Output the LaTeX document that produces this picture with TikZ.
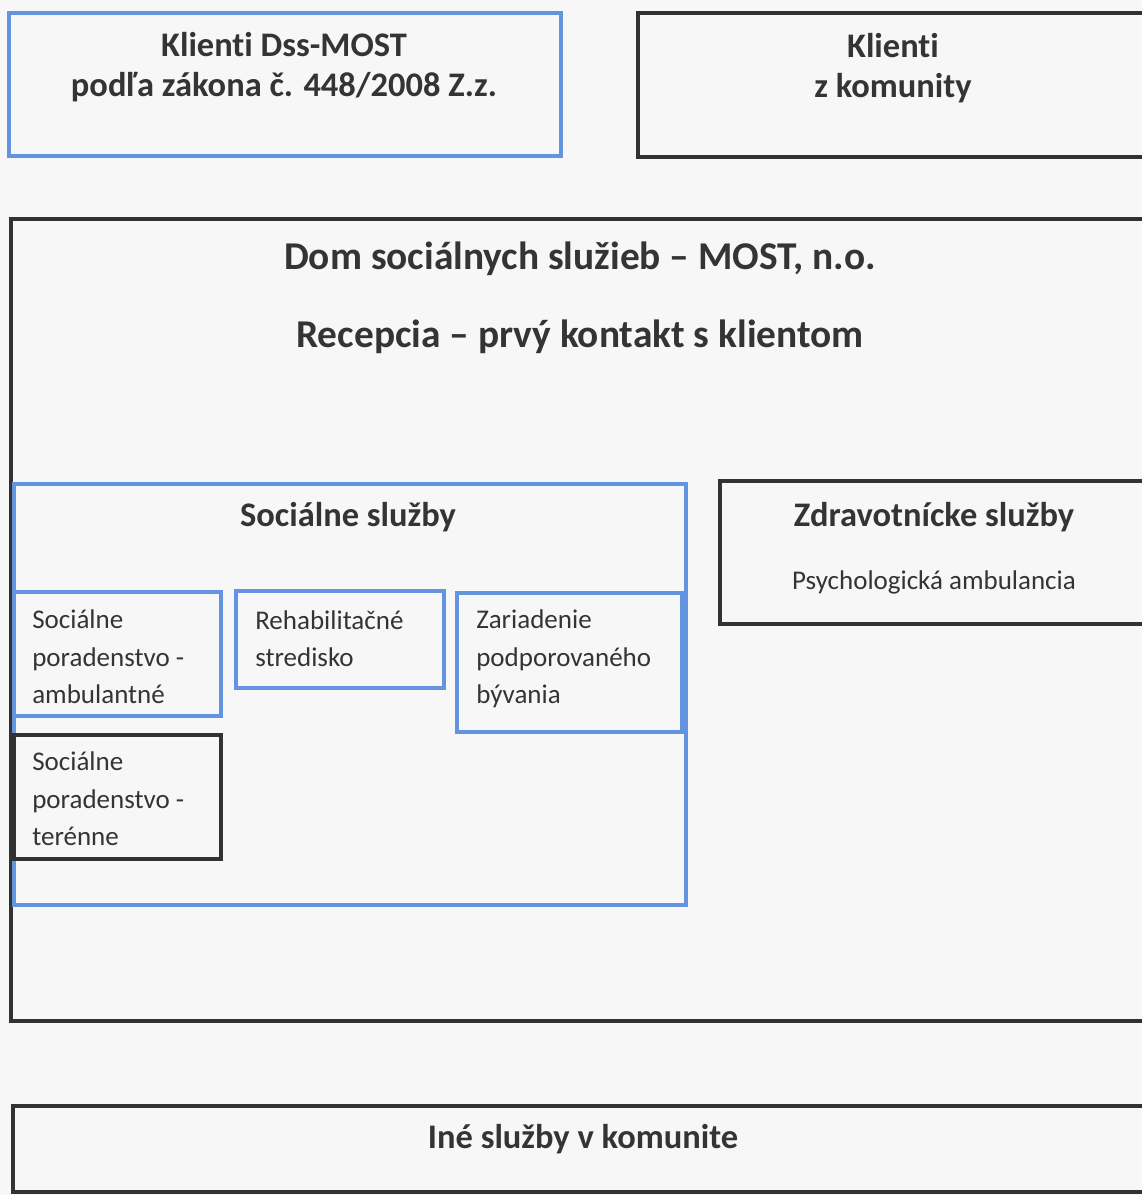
\documentclass[tikz,border=0pt]{standalone}
\usepackage{fontspec}
\setmainfont{Carlito}[Ligatures=NoCommon]
\definecolor{paper}{RGB}{247,247,247}
\definecolor{ink}{RGB}{52,52,52}
\definecolor{frame}{RGB}{50,50,50}
\definecolor{sblue}{RGB}{98,148,226}
\tikzset{
  darkbox/.style={draw=frame, line width=2.5pt},
  bluebox/.style={draw=sblue, line width=2.2pt},
  headtxt/.style={text=ink, inner sep=0pt, align=center, font=\fontsize{24.5}{28.4}\selectfont\bfseries},
  bigtxt/.style={text=ink, inner sep=0pt, font=\fontsize{28}{32}\selectfont\bfseries},
  itemtxt/.style={text=ink, inner sep=0pt, align=left, anchor=west, font=\fontsize{19.2}{26.6}\selectfont}
}
\begin{document}
\begin{tikzpicture}[x=0.025cm,y=-0.025cm]
		\clip (0,0) rectangle (1142,1195);
		\fill[paper] (0,0) rectangle (1142,1195);
		%clients
		\draw[bluebox] (9,13) rectangle (561,156);
		\node[headtxt] (dssklienti) at (284,67) {Klienti Dss-MOST\\podľa zákona č. 448/2008 Z.z.};
		\draw[darkbox] (638,13) rectangle (1160,157);
		\node[headtxt] (komklienti) at (893,68) {Klienti\\z komunity};
		%house of social services
		\draw[darkbox] (11,219) rectangle (1160,1021);
		\node[bigtxt] (dom) at (580,259) {Dom sociálnych služieb – MOST, n.o.};
		\node[bigtxt] (recepcia) at (580,337) {Recepcia – prvý kontakt s klientom};
		%social services
		\draw[bluebox] (14,484) rectangle (686,905);
		\node[headtxt] (socialne) at (348,517) {Sociálne služby};
		\draw[bluebox] (14,592) rectangle (221,716);
		\node[itemtxt] (ambulantne) at (32,657) {Sociálne\\poradenstvo -\\ambulantné};
		\draw[bluebox] (236,591) rectangle (444,688);
		\node[itemtxt] (rehab) at (255,639) {Rehabilitačné\\stredisko};
		\draw[bluebox] (457,593) rectangle (682,732);
		\node[itemtxt] (zariadenie) at (476,659) {Zariadenie\\podporovaného\\bývania};
		\draw[darkbox] (14,735) rectangle (221,859);
		\node[itemtxt] (terenne) at (32,799) {Sociálne\\poradenstvo -\\terénne};
		%health services
		\draw[darkbox] (720,481) rectangle (1160,624);
		\node[headtxt] (zdrav) at (934,517) {Zdravotnícke služby};
		\node[itemtxt, anchor=center] (psych) at (934,582) {Psychologická ambulancia};
		%other services
		\draw[darkbox] (13,1106) rectangle (1160,1192);
		\node[headtxt] (ine) at (583,1139) {Iné služby v komunite};
\end{tikzpicture}
\end{document}
